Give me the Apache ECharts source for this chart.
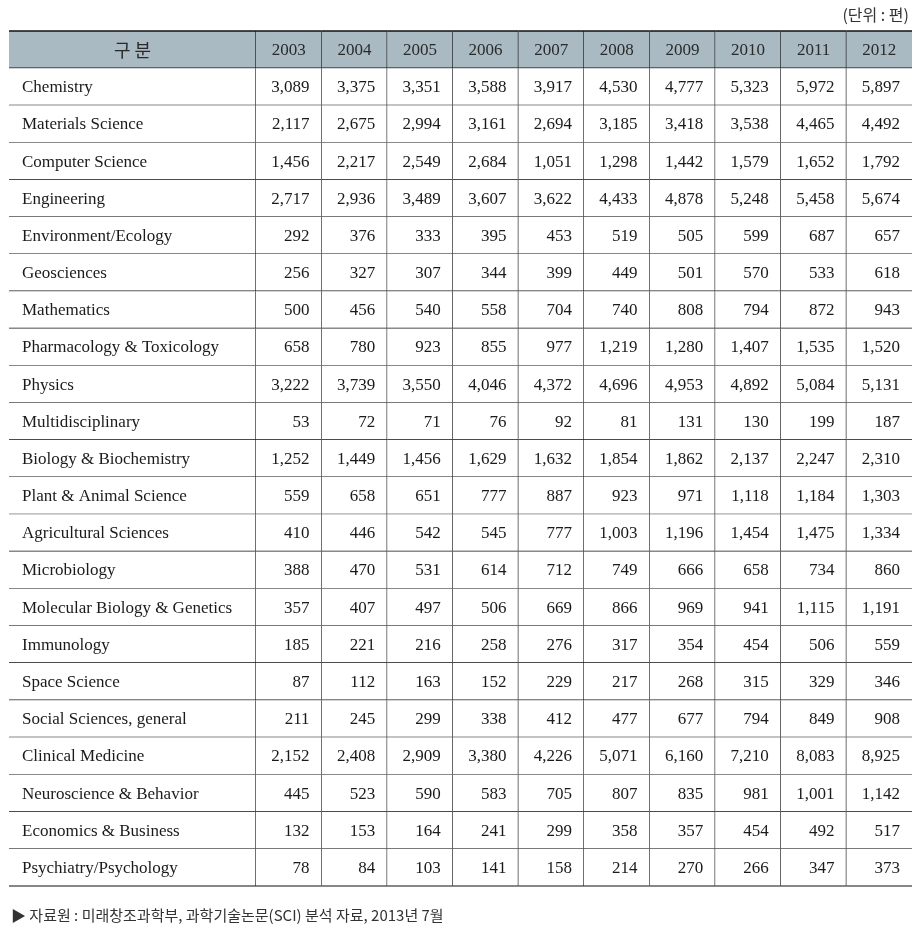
<!DOCTYPE html>
<html><head><meta charset="utf-8">
<script src="https://cdn.jsdelivr.net/npm/echarts@6/dist/echarts.min.js"></script>
<style>html,body{margin:0;padding:0;background:#fff;}#c{width:924px;height:928px;}</style>
</head><body><div id="c"></div>
<script>
const headerLabel = '구 분';
const years = ['2003','2004','2005','2006','2007','2008','2009','2010','2011','2012'];
const fields = ['Chemistry','Materials Science','Computer Science','Engineering','Environment/Ecology','Geosciences','Mathematics','Pharmacology & Toxicology','Physics','Multidisciplinary','Biology & Biochemistry','Plant & Animal Science','Agricultural Sciences','Microbiology','Molecular Biology & Genetics','Immunology','Space Science','Social Sciences, general','Clinical Medicine','Neuroscience & Behavior','Economics & Business','Psychiatry/Psychology'];
const chemistry = [3089,3375,3351,3588,3917,4530,4777,5323,5972,5897];
const materials = [2117,2675,2994,3161,2694,3185,3418,3538,4465,4492];
const computer = [1456,2217,2549,2684,1051,1298,1442,1579,1652,1792];
const engineering = [2717,2936,3489,3607,3622,4433,4878,5248,5458,5674];
const environment = [292,376,333,395,453,519,505,599,687,657];
const geosciences = [256,327,307,344,399,449,501,570,533,618];
const mathematics = [500,456,540,558,704,740,808,794,872,943];
const pharmacology = [658,780,923,855,977,1219,1280,1407,1535,1520];
const physics = [3222,3739,3550,4046,4372,4696,4953,4892,5084,5131];
const multidisciplinary = [53,72,71,76,92,81,131,130,199,187];
const biology = [1252,1449,1456,1629,1632,1854,1862,2137,2247,2310];
const plantAnimal = [559,658,651,777,887,923,971,1118,1184,1303];
const agricultural = [410,446,542,545,777,1003,1196,1454,1475,1334];
const microbiology = [388,470,531,614,712,749,666,658,734,860];
const molecular = [357,407,497,506,669,866,969,941,1115,1191];
const immunology = [185,221,216,258,276,317,354,454,506,559];
const space = [87,112,163,152,229,217,268,315,329,346];
const social = [211,245,299,338,412,477,677,794,849,908];
const clinical = [2152,2408,2909,3380,4226,5071,6160,7210,8083,8925];
const neuroscience = [445,523,590,583,705,807,835,981,1001,1142];
const economics = [132,153,164,241,299,358,357,454,492,517];
const psychiatry = [78,84,103,141,158,214,270,266,347,373];
const rowsValues = [chemistry,materials,computer,engineering,environment,geosciences,mathematics,pharmacology,physics,multidisciplinary,biology,plantAnimal,agricultural,microbiology,molecular,immunology,space,social,clinical,neuroscience,economics,psychiatry];
const unitText = '(단위 : 편)';
const sourceText = '▶ 자료원 : 미래창조과학부, 과학기술논문(SCI) 분석 자료, 2013년 7월';

const rowCats = ['header'].concat(fields);
const HEADER_BG = '#a9bac3';
const LINE = '#111';
const SERIF = '"Liberation Serif","DejaVu Serif",serif';
const KR = '"Noto Sans CJK KR","Noto Sans",sans-serif';

function fmt(v){ return v.toLocaleString('en-US'); }

const labelData = rowCats.map((r, i) => [0, i, i === 0 ? headerLabel : r]);
const numData = [];
years.forEach((y, c) => { numData.push([c, 0, y]); });
rowsValues.forEach((vals, r) => vals.forEach((v, c) => numData.push([c, r + 1, fmt(v)])));

function makeRender(isLabelCol){
  return function(params, api){
    const x = api.value(0), y = api.value(1);
    const text = isLabelCol ? labelData[params.dataIndex][2] : numData[params.dataIndex][2];
    const p = api.coord([x, y]);
    const s = api.size([1, 1]);
    const w = s[0], h = s[1];
    const x0 = p[0] - w / 2, y0 = p[1] - h / 2;
    const isHeader = y === 0;
    const children = [];
    children.push({type:'rect', shape:{x:x0, y:y0, width:w, height:h}, style:{fill: isHeader ? HEADER_BG : '#fff'}});
    children.push({type:'line', shape:{x1:x0, y1:y0 + h, x2:x0 + w, y2:y0 + h}, style:{stroke:LINE, lineWidth:1.2}});
    if (isHeader) children.push({type:'line', shape:{x1:x0, y1:y0, x2:x0 + w, y2:y0}, style:{stroke:LINE, lineWidth:1.6}});
    const lastCol = !isLabelCol && x === years.length - 1;
    if (!lastCol) children.push({type:'line', shape:{x1:x0 + w, y1:y0, x2:x0 + w, y2:y0 + h}, style:{stroke:LINE, lineWidth:1.2}});
    let tx, align;
    if (isHeader) { tx = x0 + w / 2; align = 'center'; }
    else if (isLabelCol) { tx = x0 + 13; align = 'left'; }
    else { tx = x0 + w - 12; align = 'right'; }
    children.push({type:'text', style:{x:tx, y:p[1] + 1, text:text, align:align, verticalAlign:'middle',
      font: (isHeader && isLabelCol) ? ('18px ' + KR) : ('17px ' + SERIF), fill: isHeader ? '#2a2a2a' : '#1a1a1a'}});
    return {type:'group', children:children};
  };
}

const chart = echarts.init(document.getElementById('c'), null, {renderer:'canvas'});
const yCommon = {type:'category', data:rowCats, inverse:true, show:false};
chart.setOption({
  animation:false,
  backgroundColor:'#fff',
  title:[
    {text:unitText, right:10, top:2, textStyle:{fontFamily:KR, fontSize:16, fontWeight:'normal', color:'#333'}},
    {text:sourceText, left:6, top:903, textStyle:{fontFamily:KR, fontSize:15, fontWeight:'normal', color:'#333'}}
  ],
  grid:[
    {left:9, top:31, width:247, height:855},
    {left:256, top:31, width:656, height:855}
  ],
  xAxis:[
    {type:'category', gridIndex:0, data:[headerLabel], show:false},
    {type:'category', gridIndex:1, data:years, show:false}
  ],
  yAxis:[
    Object.assign({gridIndex:0}, yCommon),
    Object.assign({gridIndex:1}, yCommon)
  ],
  series:[
    {type:'custom', xAxisIndex:0, yAxisIndex:0, data:labelData.map(d => [d[0], d[1]]), renderItem:makeRender(true), silent:true},
    {type:'custom', xAxisIndex:1, yAxisIndex:1, data:numData.map(d => [d[0], d[1]]), renderItem:makeRender(false), silent:true}
  ]
});
</script>
</body></html>
